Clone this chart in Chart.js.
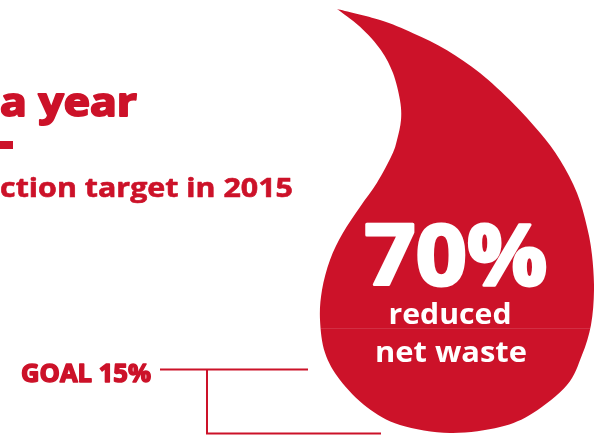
<!DOCTYPE html>
<html>
<head>
<meta charset="utf-8">
<script src="https://cdn.jsdelivr.net/npm/chart.js@4/dist/chart.umd.min.js"></script>
<style>
  html, body { margin: 0; padding: 0; background: #fff; }
  #wrap { width: 594px; height: 436px; }
</style>
</head>
<body>
<div id="wrap"><canvas id="chart" width="594" height="436"></canvas></div>
<script>
// values
const labels = ['reduced net waste'];
const reduction = [70];      // % reduced net waste
const goal = [15];           // goal line, % of the drop height
const titleLines = ['a year', 'ction target in 2015'];

const RED = '#cc1229';

// drop outline, x in px, y as 0 (top) .. 1 (bottom) of the drop
const dropOutline = [
  [337, 0], [380, 0.026], [413, 0.057], [447, 0.097], [480, 0.151], [513, 0.222],
  [540, 0.292], [560, 0.356], [577, 0.434], [587, 0.514], [592, 0.58], [594, 0.663],
  [591, 0.745], [582, 0.816], [567, 0.887], [533, 0.953], [500, 0.986], [450, 1.0],
  [400, 0.981], [367, 0.939], [340, 0.875], [325, 0.811], [320, 0.733], [322, 0.663],
  [330, 0.592], [343, 0.528], [360, 0.467], [377, 0.410], [392, 0.344], [397, 0.309],
  [401, 0.262], [400, 0.215], [393, 0.151], [381, 0.097], [360, 0.042], [337, 0]
];

// catmull-rom through the outline points
function smoothPath(ctx, pts) {
  ctx.moveTo(pts[0][0], pts[0][1]);
  for (let i = 0; i < pts.length - 1; i++) {
    const p0 = pts[Math.max(i - 1, 0)], p1 = pts[i], p2 = pts[i + 1], p3 = pts[Math.min(i + 2, pts.length - 1)];
    const t = 1 / 6;
    ctx.bezierCurveTo(
      p1[0] + (p2[0] - p0[0]) * t, p1[1] + (p2[1] - p0[1]) * t,
      p2[0] - (p3[0] - p1[0]) * t, p2[1] - (p3[1] - p1[1]) * t,
      p2[0], p2[1]);
  }
}

// draw text squeezed/stretched to a given width, optional stroke for weight
function fitText(ctx, text, x, base, width, font, align, heavy) {
  ctx.save();
  ctx.font = font;
  const w = ctx.measureText(text).width;
  ctx.translate(x, base);
  ctx.scale(width / w, 1);
  ctx.textAlign = align;
  ctx.textBaseline = 'alphabetic';
  ctx.fillText(text, 0, 0);
  if (heavy) {
    ctx.lineJoin = 'round';
    ctx.lineWidth = heavy;
    ctx.strokeStyle = ctx.fillStyle;
    ctx.strokeText(text, 0, 0);
  }
  ctx.restore();
}

const dropPlugin = {
  id: 'drop',
  afterDraw(chart) {
    const ctx = chart.ctx;
    const x = chart.scales.x, y = chart.scales.y;
    const top = y.getPixelForValue(100), bottom = y.getPixelForValue(0);
    const pts = dropOutline.map(p => [x.getPixelForValue(p[0]), top + p[1] * (bottom - top)]);

    ctx.save();
    // drop
    ctx.beginPath();
    smoothPath(ctx, pts);
    ctx.closePath();
    ctx.fillStyle = RED;
    ctx.fill();
    // faint seam
    ctx.save();
    ctx.clip();
    ctx.fillStyle = 'rgba(255,255,255,0.12)';
    ctx.fillRect(300, 328, 300, 1);
    ctx.restore();

    // text in the drop
    ctx.fillStyle = '#fff';
    fitText(ctx, reduction[0] + '%', 456, 285, 183, 'bold 84px "Open Sans"', 'center', 3);
    const words = labels[0].split(' ');
    fitText(ctx, words[0], 450, 324, 123, 'bold 28px "Open Sans"', 'center', 0);
    fitText(ctx, words.slice(1).join(' '), 451, 362, 152, 'bold 28px "Open Sans"', 'center', 0);

    // title fragments
    ctx.fillStyle = RED;
    fitText(ctx, titleLines[0], 137, 116, 137, 'bold 40px "Open Sans"', 'right', 2);
    ctx.fillRect(0, 141, 13, 8);
    fitText(ctx, titleLines[1], 293, 197, 293, 'bold 27px "Open Sans"', 'right', 0.6);

    // goal marker
    const gy = Math.round(y.getPixelForValue(goal[0])) + 0.5;
    const by = Math.round(bottom) + 0.5;
    fitText(ctx, 'GOAL ' + goal[0] + '%', 151, 382, 130, 'bold 25px "Open Sans"', 'right', 1.5);
    ctx.strokeStyle = RED;
    ctx.lineWidth = 2;
    ctx.beginPath();
    ctx.moveTo(160, gy); ctx.lineTo(308, gy);
    ctx.moveTo(207, gy); ctx.lineTo(207, by);
    ctx.lineTo(381, by);
    ctx.stroke();
    ctx.restore();
  }
};

new Chart(document.getElementById('chart'), {
  type: 'scatter',
  data: { datasets: [] },
  options: {
    responsive: false,
    animation: false,
    devicePixelRatio: 1,
    layout: { padding: { top: 9, bottom: 3, left: 0, right: 0 } },
    plugins: { legend: { display: false }, tooltip: { enabled: false } },
    scales: {
      x: { type: 'linear', min: 0, max: 594, display: false },
      y: { type: 'linear', min: 0, max: 100, display: false }
    }
  },
  plugins: [dropPlugin]
});
</script>
</body>
</html>
